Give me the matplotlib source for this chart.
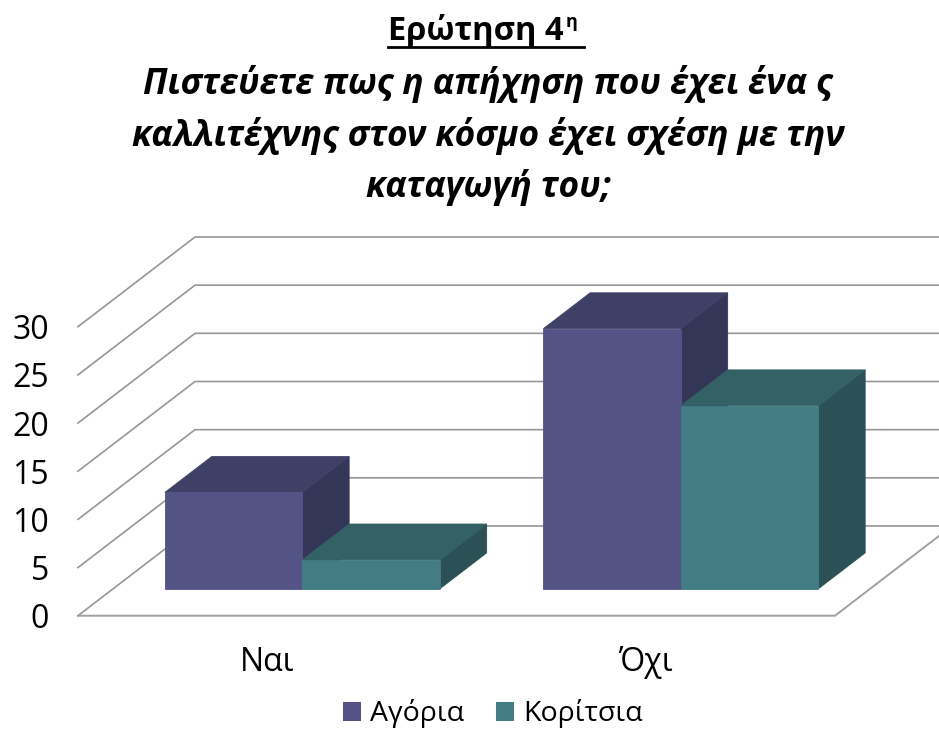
# 3D-look clustered bars for question 4 (boys / girls)
import matplotlib
matplotlib.use("Agg")
import matplotlib.pyplot as plt
from matplotlib.lines import Line2D
from matplotlib.patches import Patch, Polygon

plt.rcParams['font.family'] = ['Open Sans', 'DejaVu Sans']

# data
categories = ['Ναι', 'Όχι']
series_names = ['Αγόρια', 'Κορίτσια']
boys = [10, 27]
girls = [3, 19]
y_ticks = [0, 5, 10, 15, 20, 25, 30]

# colours: front, top, side
boys_colors = ['#545386', '#3f4066', '#343658']
girls_colors = ['#437d84', '#336165', '#2b5157']

W, H = 939, 733
fig = plt.figure(figsize=(W / 100, H / 100), dpi=100, facecolor='white')

# axes box is the front plane of the chart
left, right, bottom, top = 78, 835, 615.7, 326.7
ax = fig.add_axes([left / W, 1 - bottom / H, (right - left) / W, (bottom - top) / H])
ax.set_xlim(0, 2)
ax.set_ylim(0, 30)
ax.patch.set_visible(False)
for s in ax.spines.values():
    s.set_visible(False)

# wall depth in data units (117 px across, 89.7 px up)
depth_x = 117 / ((right - left) / 2)
depth_y = 89.7 / ((bottom - top) / 30)


def project(x, y, d):
    # d goes 0 (front) to 1 (back wall)
    return x + d * depth_x, y + d * depth_y


# gridlines: diagonal on the side wall, then across the back wall
grid_col = '#969696'
for v in y_ticks:
    x0, y0 = project(0, v, 0)
    x1, y1 = project(0, v, 1)
    x2, y2 = project(2, v, 1)
    ax.plot([x0, x1, x2], [y0, y1, y2], color=grid_col, lw=1.2, clip_on=False, zorder=1)

# floor edges
x0, y0 = project(2, 0, 0)
x1, y1 = project(2, 0, 1)
ax.plot([0, 2, x1], [0, 0, y1], color='#a0a0a0', lw=1.4, clip_on=False, zorder=1)


def draw_bar(x, w, v, colors, z):
    d0, d1 = 0.30, 0.70
    front = [project(x, 0, d0), project(x + w, 0, d0), project(x + w, v, d0), project(x, v, d0)]
    roof = [project(x, v, d0), project(x + w, v, d0), project(x + w, v, d1), project(x, v, d1)]
    side = [project(x + w, 0, d0), project(x + w, 0, d1), project(x + w, v, d1), project(x + w, v, d0)]
    for pts, c in zip([side, roof, front], [colors[2], colors[1], colors[0]]):
        ax.add_patch(Polygon(pts, closed=True, facecolor=c, edgecolor=c, lw=0.6,
                             clip_on=False, zorder=z))


bar_w = 0.3633
for i in range(len(categories)):
    draw_bar(i + 0.5 - bar_w, bar_w, boys[i], boys_colors, 2 + i * 2)
    draw_bar(i + 0.5, bar_w, girls[i], girls_colors, 3 + i * 2)

ax.set_yticks(y_ticks)
ax.set_xticks([0.5, 1.5])
ax.set_xticklabels(categories)
ax.tick_params(axis='both', length=0, labelsize=23, colors='black')
ax.tick_params(axis='y', pad=21)
ax.tick_params(axis='x', pad=22)

handles = [Patch(facecolor=boys_colors[0], label=series_names[0]),
           Patch(facecolor=girls_colors[0], label=series_names[1])]
fig.legend(handles=handles, loc='center', bbox_to_anchor=(493 / W, 1 - 714 / H), ncol=2,
           frameon=False, fontsize=20.5, handlelength=0.64, handleheight=0.64,
           handletextpad=0.32, columnspacing=1.1, borderpad=0)


def title_text(x, y, s, **kw):
    fig.text(x / W, 1 - y / H, s, color='black', fontweight='bold', **kw)


title_text(388, 40, 'Ερώτηση 4', fontsize=23.5, ha='left', va='baseline')
title_text(566, 27, 'η', fontsize=13, ha='left', va='baseline')
fig.add_artist(Line2D([388 / W, 584 / W], [1 - 47 / H, 1 - 47 / H], color='black', lw=2))

title_lines = ['Πιστεύετε πως η απήχηση που έχει ένα ς',
               'καλλιτέχνης στον κόσμο έχει σχέση με την',
               'καταγωγή του;']
for y, line in zip([94, 146, 197], title_lines):
    title_text(488, y, line, fontsize=25.4, style='italic', ha='center', va='baseline')

fig.savefig('out.png', dpi=100)
